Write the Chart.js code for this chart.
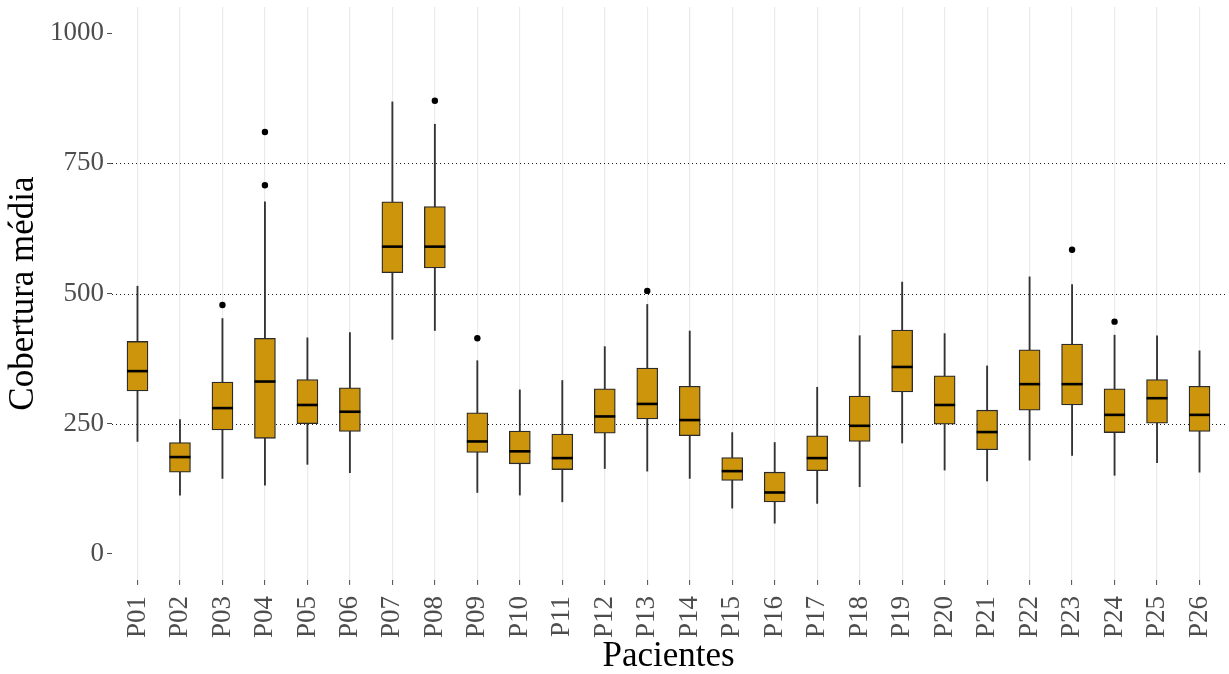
<!DOCTYPE html>
<html>
<head>
<meta charset="utf-8">
<script src="https://cdn.jsdelivr.net/npm/chart.js@4/dist/chart.umd.min.js"></script>
<style>
    body { margin: 0; background: #ffffff; }
    canvas { display: block; }
</style>
</head>
<body>
<canvas id="chart-cobertura" width="1229" height="674"></canvas>
<script>
// Pacientes (eje X)
const pacientes = ['P01', 'P02', 'P03', 'P04', 'P05', 'P06', 'P07', 'P08', 'P09', 'P10', 'P11', 'P12', 'P13',
    'P14', 'P15', 'P16', 'P17', 'P18', 'P19', 'P20', 'P21', 'P22', 'P23', 'P24', 'P25', 'P26'];

// Bigotes y cuartiles de cada boxplot
const bigoteMin = [216, 113, 145, 132, 172, 156, 412, 429, 118, 113, 100, 164, 159, 145, 88, 59, 97, 129, 213, 161, 140, 180, 189, 151, 175, 157];
const q1 = [313, 157, 238, 222, 250, 235, 540, 549, 195, 173, 162, 232, 259, 227, 141, 100, 160, 216, 311, 249, 200, 276, 286, 233, 251, 235];
const mediana = [351, 186, 280, 331, 286, 273, 590, 590, 216, 197, 184, 264, 288, 257, 159, 118, 184, 246, 359, 286, 234, 326, 326, 267, 299, 267];
const q3 = [408, 214, 330, 414, 335, 319, 676, 667, 271, 236, 230, 317, 357, 322, 185, 157, 227, 303, 430, 342, 276, 392, 403, 317, 335, 322];
const bigoteMax = [514, 258, 452, 676, 415, 425, 868, 825, 371, 315, 333, 398, 479, 428, 233, 214, 320, 419, 522, 423, 361, 532, 517, 420, 419, 390];

// Valores atipicos: [paciente, valor]
const atipicos = [['P03', 478], ['P04', 708], ['P04', 810], ['P08', 870], ['P09', 414],
    ['P13', 505], ['P23', 584], ['P24', 446]];

// Marcas del eje Y y lineas punteadas
const yTicks = [0, 250, 500, 750, 1000];
const lineasPunteadas = [250, 500, 750];

const fuente = 'Liberation Serif, Times New Roman, serif';
const colorCaja = '#CD950C';

// Dibuja las medianas y las lineas punteadas horizontales
const boxplotPlugin = {
    id: 'boxplotPlugin',
    beforeDatasetsDraw(chart) {
        const { ctx, chartArea, scales } = chart;
        ctx.save();
        ctx.strokeStyle = '#1a1a1a';
        ctx.lineWidth = 1.1;
        ctx.setLineDash([1, 3]);
        lineasPunteadas.forEach((v) => {
            const y = Math.round(scales.y.getPixelForValue(v)) + 0.5;
            ctx.beginPath();
            ctx.moveTo(chartArea.left, y);
            ctx.lineTo(chartArea.right, y);
            ctx.stroke();
        });
        ctx.restore();
    },
    afterDatasetsDraw(chart) {
        const { ctx, scales } = chart;
        const cajas = chart.getDatasetMeta(1).data;
        ctx.save();
        ctx.strokeStyle = '#000000';
        ctx.lineWidth = 2.6;
        mediana.forEach((m, i) => {
            const x = scales.x.getPixelForValue(i + 1);
            const w = cajas[i].width / 2;
            const y = scales.y.getPixelForValue(m);
            ctx.beginPath();
            ctx.moveTo(x - w, y);
            ctx.lineTo(x + w, y);
            ctx.stroke();
        });
        ctx.restore();
    }
};

const ctx = document.getElementById('chart-cobertura').getContext('2d');
const chart = new Chart(ctx, {
    type: 'bar',
    data: {
        datasets: [
            {
                // Bigotes (barra flotante delgada)
                label: 'Bigotes',
                data: pacientes.map((p, i) => ({ x: i + 1, y: [bigoteMin[i], bigoteMax[i]] })),
                backgroundColor: '#333333',
                barThickness: 1.2,
                grouped: false,
                order: 3,
            },
            {
                // Cajas Q1 - Q3
                label: 'Cajas',
                data: pacientes.map((p, i) => ({ x: i + 1, y: [q1[i], q3[i]] })),
                backgroundColor: colorCaja,
                borderColor: '#2b2b2b',
                borderWidth: 1.3,
                borderSkipped: false,
                barThickness: 21,
                grouped: false,
                order: 2,
            },
            {
                // Puntos atipicos
                label: 'Atipicos',
                type: 'line',
                data: atipicos.map((a) => ({ x: pacientes.indexOf(a[0]) + 1, y: a[1] })),
                showLine: false,
                pointRadius: 3.2,
                pointBackgroundColor: '#000000',
                pointBorderWidth: 0,
                order: 1,
            }
        ]
    },
    options: {
        responsive: false,
        animation: false,
        layout: {
            padding: { left: 0, right: 3, top: 0, bottom: 0 }
        },
        plugins: {
            legend: { display: false },
            tooltip: { enabled: false }
        },
        scales: {
            x: {
                type: 'linear',
                min: 0.4,
                max: 26.6,
                offset: false,
                afterBuildTicks: (scale) => {
                    scale.ticks = pacientes.map((p, i) => ({ value: i + 1 }));
                },
                ticks: {
                    autoSkip: false,
                    minRotation: 90,
                    maxRotation: 90,
                    padding: 11,
                    color: '#4d4d4d',
                    font: { family: fuente, size: 27, lineHeight: 0.3 },
                    callback: (value) => pacientes[value - 1]
                },
                grid: {
                    offset: false,
                    color: '#ebebeb',
                    lineWidth: 1.2,
                    drawTicks: true,
                    tickLength: 5,
                    tickColor: '#4d4d4d',
                    tickWidth: 1
                },
                border: { display: false },
                title: {
                    display: true,
                    text: 'Pacientes',
                    color: '#000000',
                    font: { family: fuente, size: 35, lineHeight: 1 },
                    padding: { top: -10, bottom: 0 }
                }
            },
            y: {
                min: -50,
                max: 1050,
                afterBuildTicks: (scale) => {
                    scale.ticks = yTicks.map((v) => ({ value: v }));
                },
                ticks: {
                    padding: 3,
                    color: '#4d4d4d',
                    font: { family: fuente, size: 27, lineHeight: 0.3 },
                    callback: (value) => String(value)
                },
                grid: {
                    drawOnChartArea: false,
                    drawTicks: true,
                    tickLength: 5,
                    tickColor: '#4d4d4d',
                    tickWidth: 1
                },
                border: { display: false },
                title: {
                    display: true,
                    text: 'Cobertura média',
                    color: '#000000',
                    font: { family: fuente, size: 35, lineHeight: 1.2 },
                    padding: { top: 3, bottom: 2 }
                }
            }
        }
    },
    plugins: [boxplotPlugin]
});
</script>
</body>
</html>
